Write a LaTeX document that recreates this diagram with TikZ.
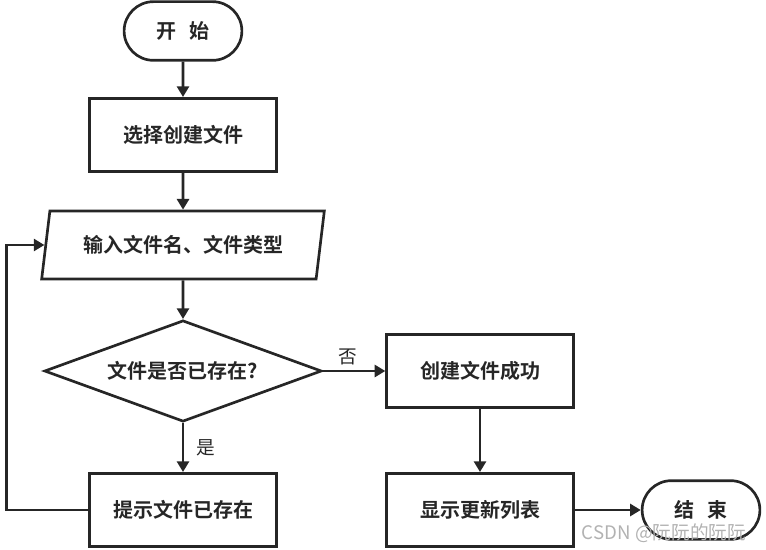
\documentclass[tikz,border=0pt]{standalone}
\usepackage{fontspec}
\usepackage{tikz}
\usetikzlibrary{shapes.geometric, shapes.misc, arrows.meta}
\newfontfamily\cjk[BoldFont={Noto Sans CJK SC Bold}]{Noto Sans CJK SC}
\definecolor{ink}{HTML}{262626}

\begin{document}
\begin{tikzpicture}[x=0.75pt, y=-0.75pt,
    every node/.style={font=\cjk\bfseries\fontsize{15}{18}\selectfont, text=ink},
    base/.style={draw=ink, line width=2pt},
    term/.style={base, rounded rectangle, minimum width=95pt, minimum height=44pt},
    proc/.style={base, rectangle, minimum width=140pt, minimum height=55pt},
    io/.style={base, trapezium, trapezium left angle=77, trapezium right angle=103,
        trapezium stretches=true, minimum width=212pt, minimum height=51pt},
    decision/.style={base, diamond, aspect=2.74, inner sep=0pt, minimum width=208pt, minimum height=76pt},
    flow/.style={draw=ink, line width=2pt, -{Triangle[length=8pt, width=9pt]}},
    tag/.style={font=\cjk\fontsize{14}{16}\selectfont}]
    \useasboundingbox (0, 0) rectangle (766, 549);

    \node[term] at (183, 31) (start) {开\hspace{0.7em}始};
    \node[proc] at (183, 135) (select) {选择创建文件};
    \node[io] at (183, 245) (input) {输入文件名、文件类型};
    \node[decision] at (183, 371) (check) {文件是否已存在?};
    \node[proc] at (183, 510) (exists) {提示文件已存在};

    \node[proc] at (480, 371) (success) {创建文件成功};
    \node[proc] at (480, 510) (refresh) {显示更新列表};
    \node[term] at (701, 510) (stop) {结\hspace{0.7em}束};

    \draw[flow] (start) -- (select);
    \draw[flow] (select) -- (input);
    \draw[flow] (input) -- (check);
    \draw[flow] (check) -- node[tag, right=6pt] {是} (exists);
    \draw[flow] (check) -- node[tag, above, pos=0.4] {否} (success);
    \draw[flow] (exists.west) -- ++(-82, 0) |- (input);
    \draw[flow] (success) -- (refresh);
    \draw[flow] (refresh) -- (stop);

    \node[font=\cjk\fontsize{14}{16}\selectfont, text=black!30] at (664, 533) (mark) {CSDN @阮阮的阮阮};
\end{tikzpicture}
\end{document}
